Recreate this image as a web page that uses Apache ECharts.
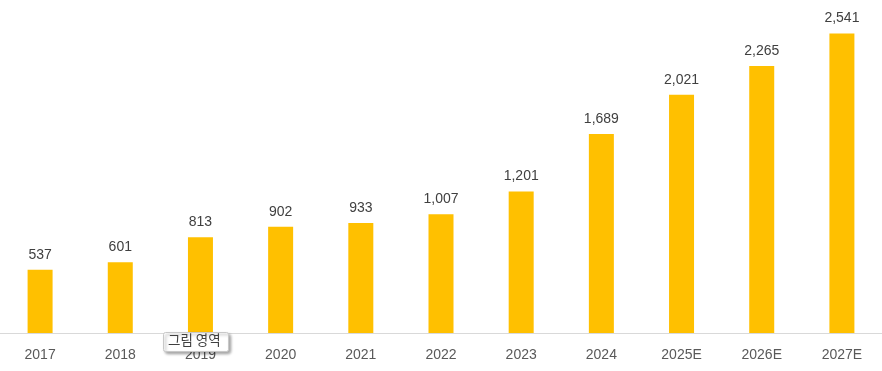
<!DOCTYPE html>
<html><head><meta charset="utf-8">
<script src="https://cdn.jsdelivr.net/npm/echarts@6/dist/echarts.min.js"></script>
<style>html,body{margin:0;padding:0;background:#fff}#c{width:882px;height:371px}</style>
</head><body><div id="c"></div>
<script>
const categories = ['2017','2018','2019','2020','2021','2022','2023','2024','2025E','2026E','2027E'];
const values = [537,601,813,902,933,1007,1201,1689,2021,2265,2541];
const chart = echarts.init(document.getElementById('c'));
chart.setOption({
  animation:false,
  grid:{left:0,right:0,top:3,bottom:38},
  xAxis:{type:'category',data:categories,
    axisLine:{lineStyle:{color:'#d9d9d9',width:1}},axisTick:{show:false},
    axisLabel:{color:'#595959',fontSize:14,fontFamily:'Liberation Sans, Arial',margin:15}},
  yAxis:{type:'value',min:0,max:2800,show:false,splitLine:{show:false}},
  series:[{type:'bar',data:values,barWidth:25,itemStyle:{color:'#FFC000'},
    label:{show:true,position:'top',distance:8,color:'#404040',fontSize:14,fontFamily:'Liberation Sans, Arial',
      formatter:p=>p.value.toLocaleString('en-US')}}],
  graphic:[{type:'rect',left:163,top:332,shape:{width:65,height:19,r:2},
      style:{fill:'#fff',stroke:'#c8c8c8',lineWidth:1,shadowBlur:3,shadowOffsetX:2,shadowOffsetY:2,shadowColor:'rgba(0,0,0,0.35)'},z:100},
    {type:'text',left:168,top:333,style:{text:'그림 영역',fill:'#404040',fontSize:13.5,fontFamily:'Noto Sans CJK KR'},z:101}]
});
</script></body></html>
